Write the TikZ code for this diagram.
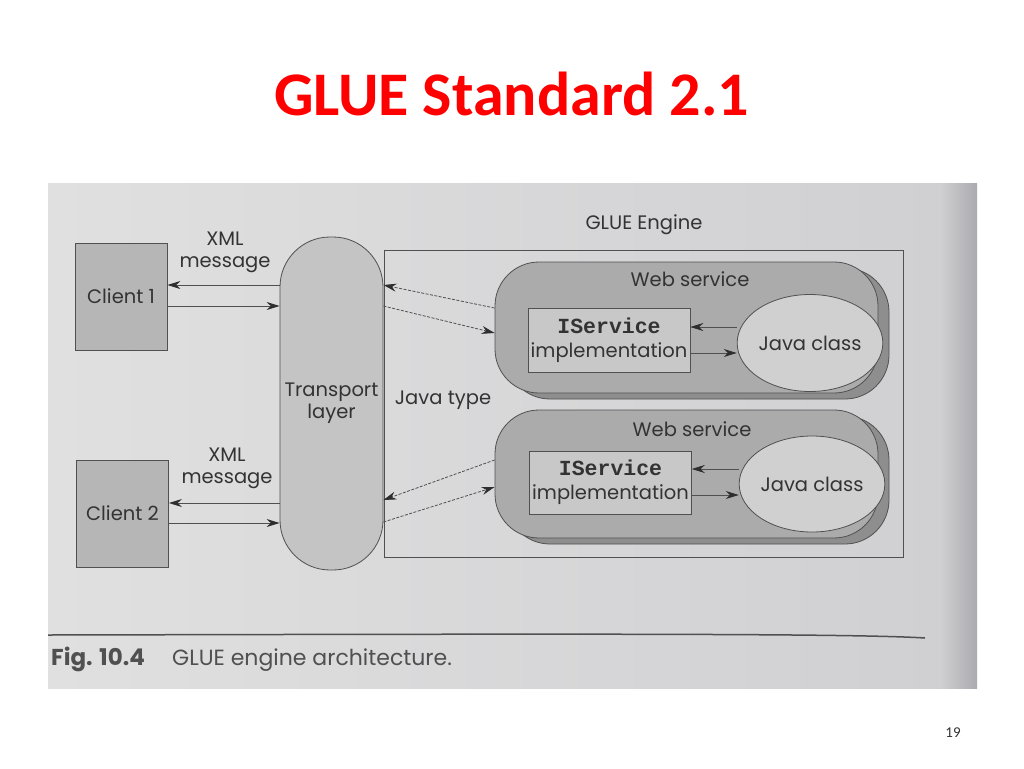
\documentclass[tikz,border=0pt]{standalone}
\usepackage{fontspec}
\setmainfont{Poppins}
\newfontfamily\titlefont{Carlito}
\newfontfamily\monofont{Liberation Mono}
\usetikzlibrary{arrows.meta,shadows,shapes.geometric}
\definecolor{titlered}{HTML}{FF0000}
\definecolor{txt}{HTML}{333333}
\definecolor{ln}{HTML}{505050}
\definecolor{head}{HTML}{2E2E2E}
\definecolor{scanA}{HTML}{E0E0E0}
\definecolor{scanB}{HTML}{D0D0D3}
\definecolor{scanC}{HTML}{ABABAF}
\definecolor{clientfill}{HTML}{B6B6B6}
\definecolor{transfill}{HTML}{C4C4C4}
\definecolor{wsfill}{HTML}{ABABAB}
\definecolor{wsrim}{HTML}{8E8E8E}
\definecolor{isfill}{HTML}{C8C8C8}
\definecolor{jcfill}{HTML}{D0D0D0}
\begin{document}
\begin{tikzpicture}[x=1pt,y=-1pt,
  lbl/.style={font=\fontsize{19.5}{22}\selectfont, text=txt, inner sep=0pt, align=center},
  client/.style={lbl, draw=ln, line width=0.8pt, fill=clientfill, minimum width=92pt, minimum height=107pt},
  transport/.style={lbl, draw=ln, line width=0.8pt, fill=transfill, minimum width=103pt, minimum height=333pt, rounded corners=50pt},
  engine/.style={draw=ln, line width=0.6pt, minimum width=519pt, minimum height=307pt, inner sep=0pt},
  wsbox/.style={draw=ln, line width=0.8pt, fill=wsfill, rounded corners=44pt, minimum width=383pt, inner sep=0pt,
    copy shadow={shadow xshift=11pt, shadow yshift=-6pt, fill=wsrim, draw=ln, line width=0.8pt}},
  isbox/.style={lbl, draw=ln, line width=0.6pt, fill=isfill, minimum width=162pt, minimum height=64pt},
  jclass/.style={lbl, ellipse, draw=ln, line width=0.8pt, fill=jcfill, minimum width=118pt, minimum height=97pt},
  arr/.style={draw=ln, line width=0.8pt, -{Stealth[length=13pt,width=8pt,color=head]}},
  darr/.style={arr, dash pattern=on 3pt off 1.5pt},
]
\useasboundingbox (0,0) rectangle (1024,768);
% slide title
\node[font=\titlefont\bfseries\fontsize{62}{70}\selectfont, text=titlered, inner sep=0pt, anchor=base] (title) at (511.5,115) {GLUE Standard 2.1};
% scanned page background
\shade[left color=scanA, right color=scanB] (48,183) rectangle (940,688);
\shade[left color=scanB, right color=scanC] (940,183) rectangle (977,688);
% clients
\node[client] (c1) at (121,296.5) {Client 1};
\node[client] (c2) at (122.5,513.5) {Client 2};
\node[lbl] (xml1) at (225,252) {XML\\message};
\node[lbl] (xml2) at (227,468) {XML\\message};
% transport layer
\node[transport] (tl) at (331.5,403.5) {Transport\\layer};
% engine
\node[engine] (ge) at (643.5,403.5) {};
\node[lbl] (get) at (644,225) {GLUE Engine};
\node[lbl] (jt) at (443,400) {Java type};
% web services
\node[wsbox, minimum height=131pt] (ws1) at (686.5,327.5) {};
\node[wsbox, minimum height=128pt] (ws2) at (686.5,474) {};
\node[lbl] (wsl1) at (690,279) {Web service};
\node[lbl] (wsl2) at (692,429) {Web service};
\node[isbox] (is1) at (609,340) {{\monofont\bfseries\fontsize{21.5}{22}\selectfont IService}\\[2pt]implementation};
\node[isbox, minimum height=63pt] (is2) at (610.5,482.5) {{\monofont\bfseries\fontsize{21.5}{22}\selectfont IService}\\[2pt]implementation};
\node[jclass] (j1) at (810,343) {Java class};
\node[jclass, minimum height=96pt] (j2) at (812,484) {Java class};
% client arrows
\draw[arr] (tl.west |- 0,285) -- (c1.east |- 0,285);
\draw[arr] (c1.east |- 0,306) -- (tl.west |- 0,306);
\draw[arr] (tl.west |- 0,503) -- (c2.east |- 0,503);
\draw[arr] (c2.east |- 0,523) -- (tl.west |- 0,523);
% java type arrows
\draw[darr] (ws1.west |- 0,308) -- (tl.east |- 0,285);
\draw[darr] (tl.east |- 0,306) -- (ws1.west |- 0,333);
\draw[darr] (ws2.west |- 0,460) -- (tl.east |- 0,500);
\draw[darr] (tl.east |- 0,522) -- (ws2.west |- 0,487);
% inner arrows
\draw[arr] (j1.west |- 0,327) -- (is1.east |- 0,327);
\draw[arr] (is1.east |- 0,353) -- (j1.west |- 0,353);
\draw[arr] (j2.west |- 0,469) -- (is2.east |- 0,469);
\draw[arr] (is2.east |- 0,495) -- (j2.west |- 0,495);
% caption
\draw[ln, line width=1.5pt] (48,635) .. controls (500,634) and (850,633) .. (925,638);
\node[lbl, anchor=base west, font=\bfseries\fontsize{23}{26}\selectfont, text=ln] (fig) at (51,665) {Fig. 10.4};
\node[lbl, anchor=base west, font=\fontsize{22}{26}\selectfont, text=ln] (cap) at (172,665) {GLUE engine architecture.};
% page number
\node[font=\titlefont\fontsize{15}{17}\selectfont, text=txt, inner sep=0pt] (pg) at (953,733) {19};
\end{tikzpicture}
\end{document}
